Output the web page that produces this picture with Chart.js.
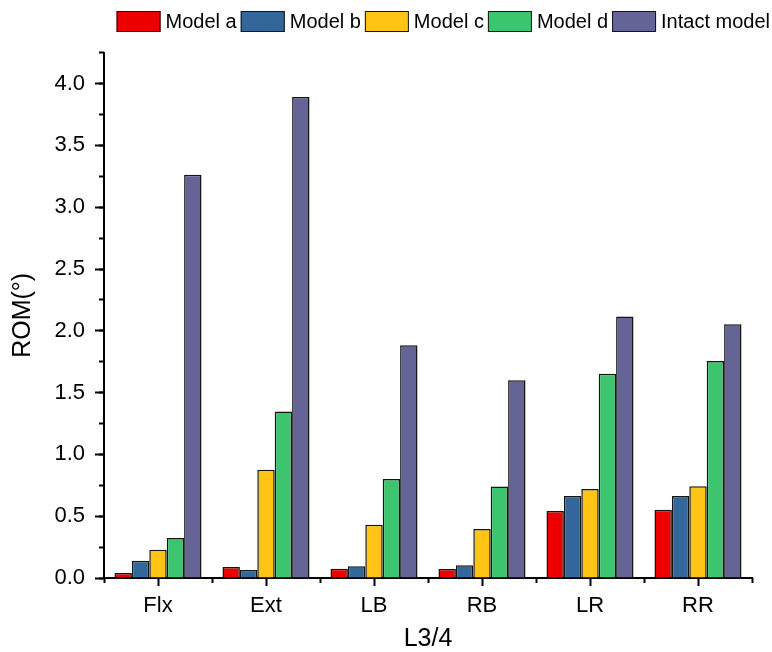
<!DOCTYPE html>
<html>
<head>
<meta charset="utf-8">
<title>L3/4 ROM</title>
<script src="https://cdn.jsdelivr.net/npm/chart.js@4.4.1/dist/chart.umd.min.js"></script>
<style>
  html, body { margin: 0; padding: 0; background: #fff; }
  #wrap { width: 772px; height: 652px; }
</style>
</head>
<body>
<div id="wrap"><canvas id="c" width="772" height="652"></canvas></div>
<script>
// Range of motion (degrees) at L3/4 for each loading direction
const categories = ['Flx', 'Ext', 'LB', 'RB', 'LR', 'RR'];
const seriesNames = ['Model a', 'Model b', 'Model c', 'Model d', 'Intact model'];
const modelA = [0.04, 0.09, 0.075, 0.073, 0.543, 0.553];
const modelB = [0.14, 0.065, 0.095, 0.103, 0.664, 0.664];
const modelC = [0.229, 0.875, 0.43, 0.397, 0.72, 0.742];
const modelD = [0.324, 1.347, 0.80, 0.74, 1.652, 1.755];
const intact = [3.263, 3.892, 1.884, 1.60, 2.116, 2.054];
const yMax = 4.25;
const yMajorStep = 0.5;
const yMinorStep = 0.25;

const colors = ['#EC0000', '#33669A', '#FFC416', '#3CC46F', '#646497'];
const values = [modelA, modelB, modelC, modelD, intact];

const FONT = '"Liberation Sans", Arial, Helvetica, sans-serif';
Chart.defaults.font.family = FONT;
Chart.defaults.color = '#000';

const isMajor = (v) => Math.abs(v / yMajorStep - Math.round(v / yMajorStep)) < 1e-6;

const datasets = values.map((v, i) => ({
  label: seriesNames[i],
  data: v,
  backgroundColor: colors[i],
  borderColor: '#141414',
  borderWidth: 1.5,
  borderSkipped: 'start',
  xAxisID: 'x',
  yAxisID: 'y',
  categoryPercentage: 0.806,
  barPercentage: 1.0
}));

// Compact single-row legend: swatch, short gap, label, right-aligned along the top
const rowLegend = {
  id: 'rowLegend',
  afterDraw(chart, args, o) {
    const ctx = chart.ctx;
    ctx.save();
    ctx.font = o.fontSize + 'px ' + FONT;
    const items = chart.data.datasets.map(ds => ({
      label: ds.label,
      fill: ds.backgroundColor,
      w: ctx.measureText(ds.label).width
    }));
    const total = items.reduce((s, it) => s + o.boxWidth + o.boxGap + it.w, 0) + o.itemGap * (items.length - 1);
    let x = o.right - total;
    const cy = o.top + o.boxHeight / 2;
    ctx.textBaseline = 'middle';
    ctx.textAlign = 'left';
    for (const it of items) {
      ctx.fillStyle = it.fill;
      ctx.fillRect(x, o.top, o.boxWidth, o.boxHeight);
      ctx.lineWidth = 1;
      ctx.strokeStyle = '#141414';
      ctx.strokeRect(x + 0.5, o.top + 0.5, o.boxWidth - 1, o.boxHeight - 1);
      x += o.boxWidth + o.boxGap;
      ctx.fillStyle = '#000';
      ctx.fillText(it.label, x, cy + 1);
      x += it.w + o.itemGap;
    }
    ctx.restore();
  }
};

new Chart(document.getElementById('c'), {
  type: 'bar',
  data: { labels: categories, datasets },
  plugins: [rowLegend],
  options: {
    responsive: false,
    animation: false,
    layout: { padding: { top: 9, left: 0, right: 0, bottom: 0 } },
    plugins: {
      tooltip: { enabled: false },
      legend: { display: false },
      rowLegend: {
        right: 770, top: 11,
        boxWidth: 44, boxHeight: 21,
        boxGap: 5, itemGap: 4,
        fontSize: 20
      }
    },
    scales: {
      x: {
        type: 'category',
        position: 'bottom',
        weight: 1,
        offset: true,
        grid: {
          offset: false,
          drawOnChartArea: false,
          drawTicks: true,
          tickLength: 8,
          tickWidth: 2,
          tickColor: '#000'
        },
        border: { display: true, color: '#000', width: 2 },
        ticks: { padding: 7, font: { size: 22 }, color: '#000' },
        title: {
          display: true,
          text: 'L3/4',
          font: { size: 25, lineHeight: 1 },
          padding: { top: 0, bottom: 0 },
          color: '#000'
        },
        afterFit(scale) {
          scale.height = 74;
          scale.paddingLeft = 0;
          scale.paddingRight = 20;
        }
      },
      xMinor: {
        type: 'category',
        position: 'bottom',
        weight: 0,
        offset: true,
        grid: {
          offset: true,
          drawOnChartArea: false,
          drawTicks: true,
          tickLength: 5,
          tickWidth: 2,
          tickColor: '#000'
        },
        border: { display: false },
        ticks: { display: false },
        afterFit(scale) {
          scale.height = 0;
          scale.paddingLeft = 0;
          scale.paddingRight = 20;
        }
      },
      y: {
        type: 'linear',
        position: 'left',
        weight: 1,
        min: 0,
        max: yMax,
        grid: {
          drawOnChartArea: false,
          drawTicks: true,
          tickLength: 9,
          tickWidth: 2,
          tickColor: (ctx) => (ctx.tick && isMajor(ctx.tick.value)) ? '#000' : 'rgba(0,0,0,0)'
        },
        border: { display: true, color: '#000', width: 2 },
        ticks: {
          stepSize: yMajorStep,
          padding: 10,
          font: { size: 22 },
          color: '#000',
          callback: (v) => isMajor(v) ? v.toFixed(1) : ''
        },
        title: {
          display: true,
          text: 'ROM(°)',
          font: { size: 25, lineHeight: 1.2 },
          padding: { top: 8, bottom: 0 },
          color: '#000'
        },
        afterFit(scale) {
          scale.width = 104;
          scale.paddingTop = 52.7;
          scale.paddingBottom = 0;
        }
      },
      yMinor: {
        type: 'linear',
        position: 'left',
        weight: 0,
        min: 0,
        max: yMax,
        grid: {
          drawOnChartArea: false,
          drawTicks: true,
          tickLength: 5,
          tickWidth: 2,
          tickColor: '#000'
        },
        border: { display: false },
        ticks: { display: false, stepSize: yMinorStep },
        afterFit(scale) {
          scale.width = 0;
          scale.paddingTop = 52.7;
          scale.paddingBottom = 0;
        }
      }
    }
  }
});
</script>
</body>
</html>
